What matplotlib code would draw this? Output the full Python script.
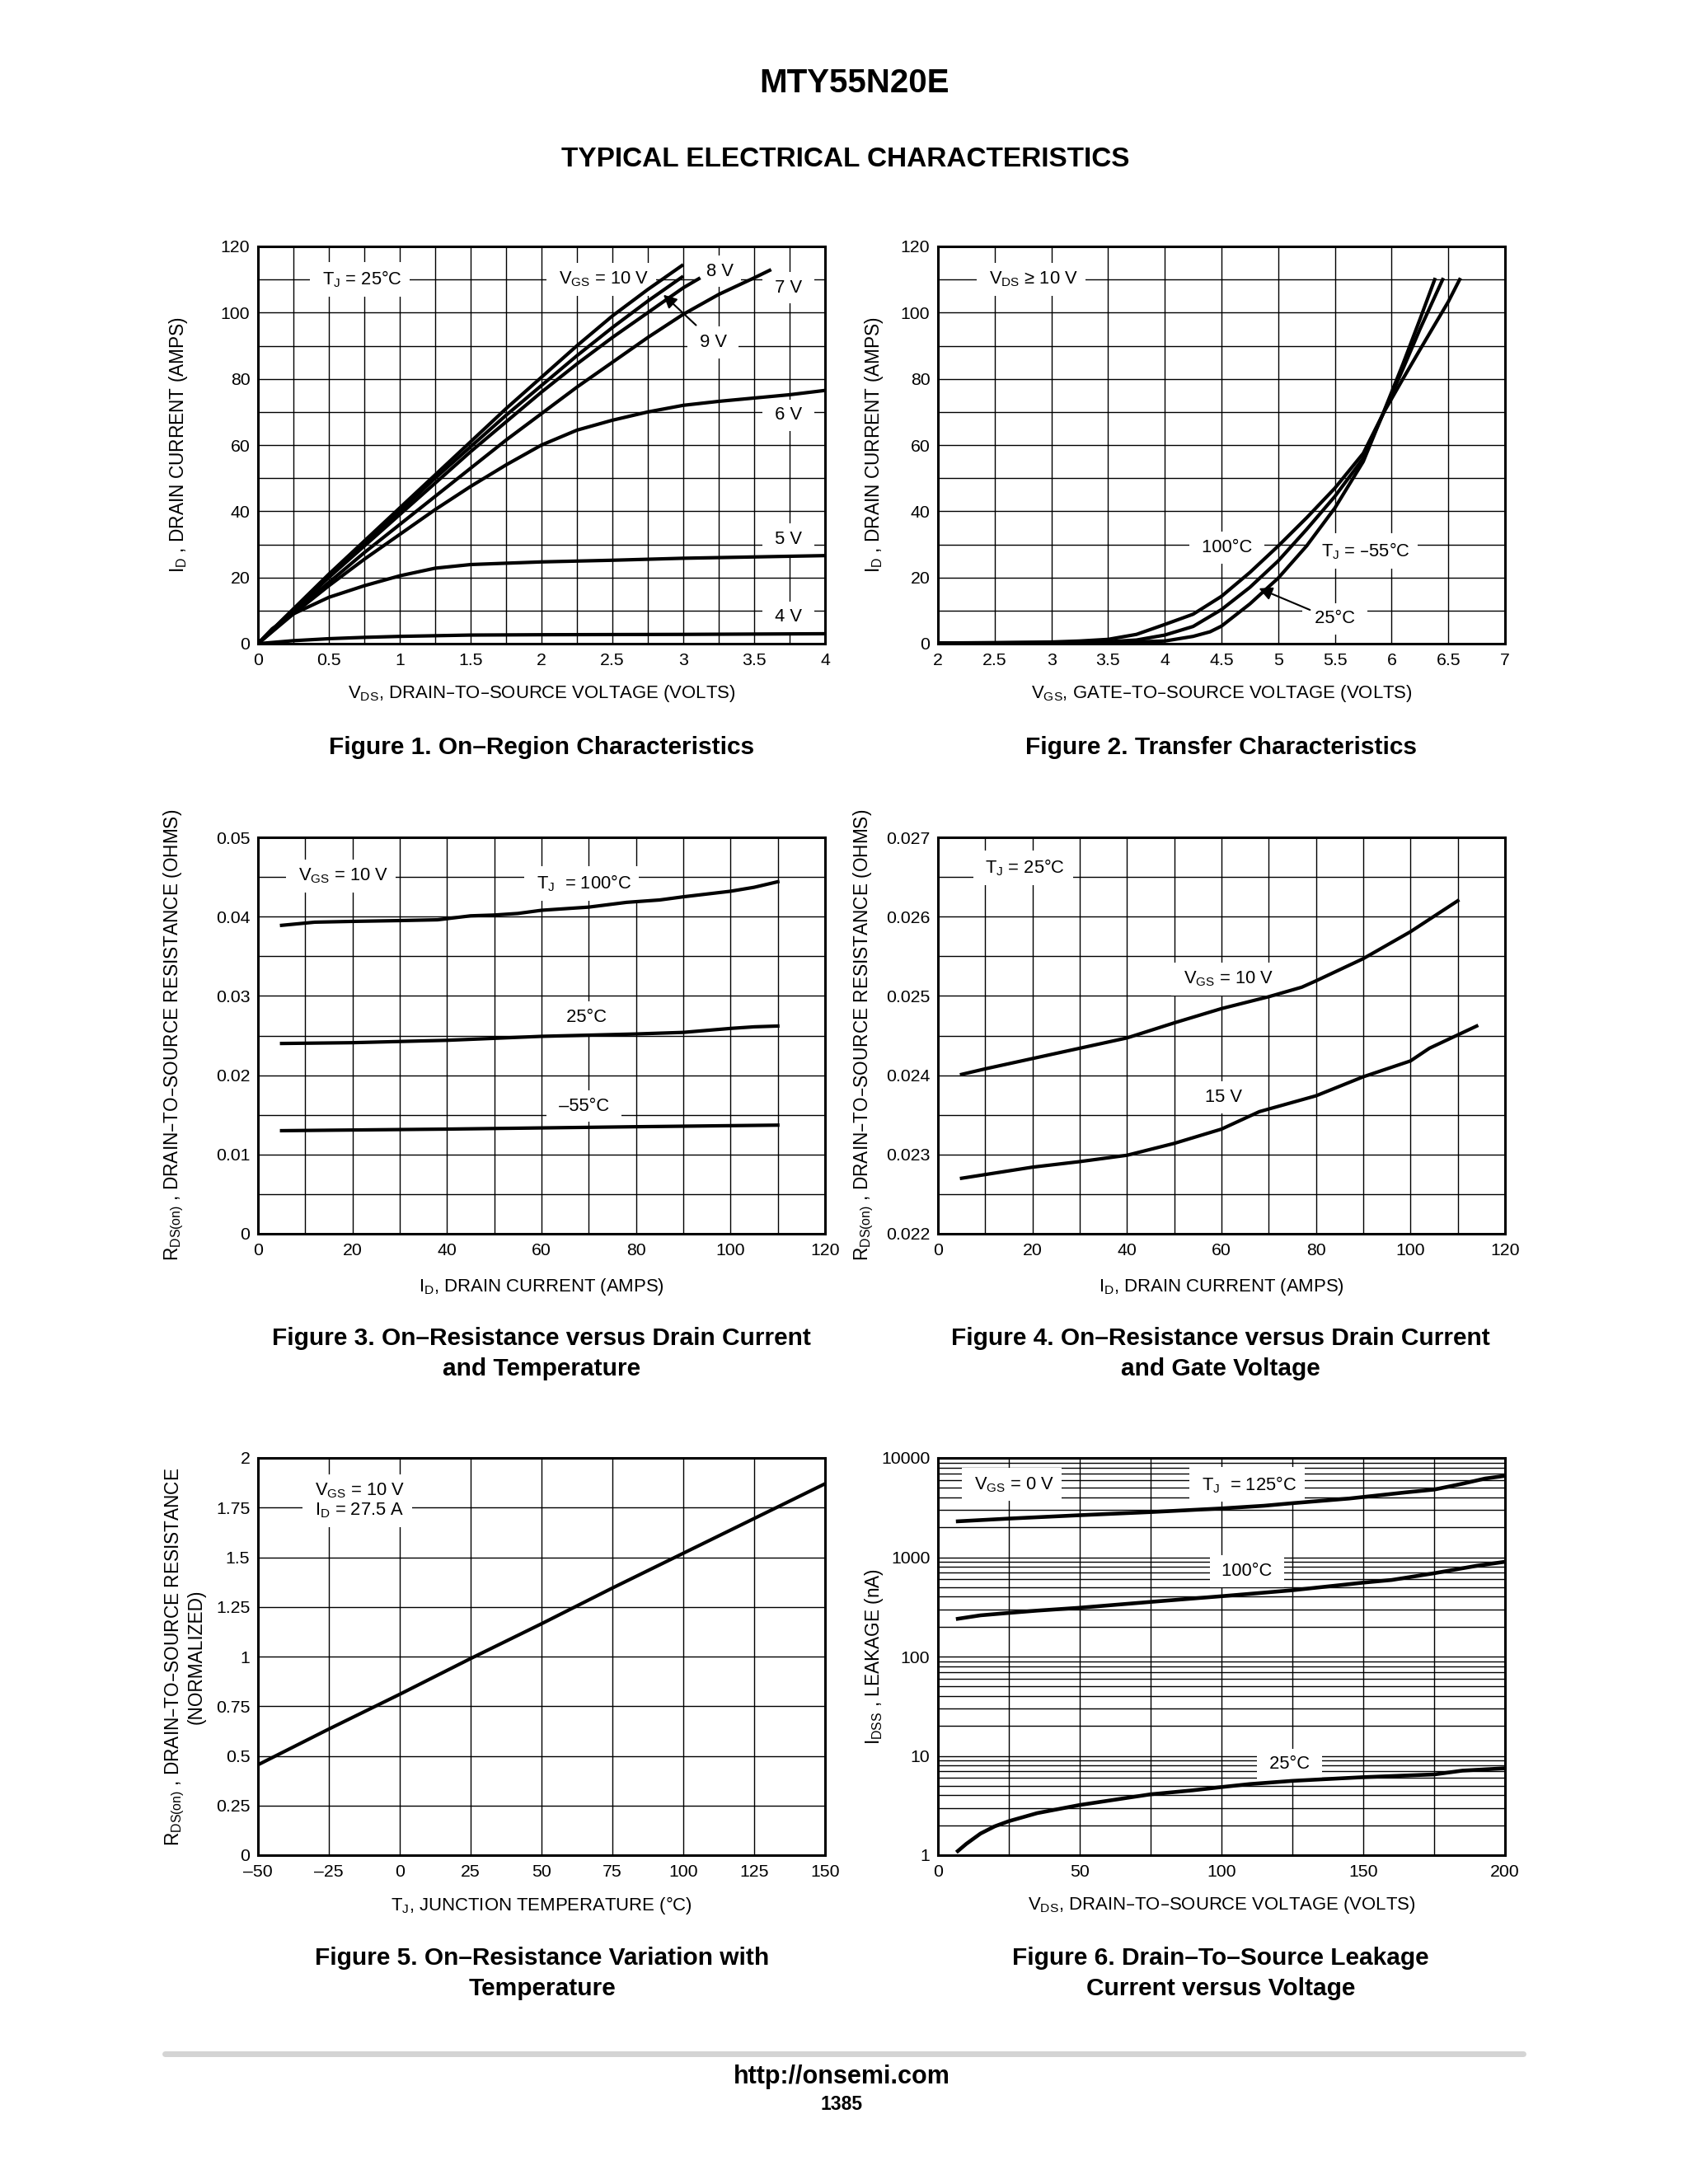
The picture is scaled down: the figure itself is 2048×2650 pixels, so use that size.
import numpy as np
import matplotlib
matplotlib.use('Agg')
import matplotlib.pyplot as plt
from matplotlib import font_manager as fm
from matplotlib.font_manager import FontProperties
from matplotlib.lines import Line2D
from matplotlib.ticker import NullFormatter

# ---------------- DATA ----------------
# Figure 1: On-region characteristics (VDS in V, ID in A), TJ = 25 C
vds_10v = [0, 0.25, 0.5, 0.75, 1.0, 1.25, 1.5, 1.75, 2.0, 2.25, 2.5, 2.75, 3.0]
id_10v = [0, 10.5, 21, 31, 41, 51, 61, 71, 80.5, 90, 99, 107, 114.5]
vds_9v = [0, 0.25, 0.5, 0.75, 1.0, 1.25, 1.5, 1.75, 2.0, 2.25, 2.5, 2.75, 3.0]
id_9v = [0, 10.3, 20.5, 30.5, 40, 50, 59.5, 69, 78, 87, 95.5, 103.5, 111]
vds_8v = [0, 0.25, 0.5, 0.75, 1.0, 1.25, 1.5, 1.75, 2.0, 2.25, 2.5, 2.75, 3.0, 3.12]
id_8v = [0, 10, 20, 29.5, 39, 48.5, 58, 67, 76, 84.5, 92.5, 100, 107.5, 110.5]
vds_7v = [0, 0.25, 0.5, 0.75, 1.0, 1.25, 1.5, 1.75, 2.0, 2.25, 2.5, 2.75, 3.0, 3.25, 3.5, 3.62]
id_7v = [0, 9.5, 18.5, 27.5, 36, 44.5, 53, 61.5, 69.5, 77.5, 85, 92.5, 99.5, 105.5, 110.5, 113]
vds_6v = [0, 0.25, 0.5, 0.75, 1.0, 1.25, 1.5, 1.75, 2.0, 2.25, 2.5, 2.75, 3.0, 3.25, 3.5, 3.75, 4.0]
id_6v = [0, 9, 17.5, 25.5, 33, 40.5, 47.5, 54, 60, 64.5, 67.5, 70, 72, 73.2, 74.2, 75.2, 76.5]
vds_5v = [0, 0.1, 0.25, 0.5, 0.75, 1.0, 1.25, 1.5, 1.75, 2.0, 2.5, 3.0, 3.5, 4.0]
id_5v = [0, 4.5, 9, 14, 17.5, 20.5, 22.8, 23.9, 24.3, 24.7, 25.2, 25.8, 26.2, 26.6]
vds_4v = [0, 0.25, 0.5, 0.75, 1.0, 1.5, 2.0, 2.5, 3.0, 3.5, 4.0]
id_4v = [0, 0.9, 1.5, 1.9, 2.2, 2.6, 2.7, 2.75, 2.8, 2.9, 3.0]
fig1_xticklabels = ['0', '0.5', '1', '1.5', '2', '2.5', '3', '3.5', '4']
fig1_yticklabels = ['0', '20', '40', '60', '80', '100', '120']

# Figure 2: Transfer characteristics (VGS in V, ID in A)
vgs_100c = [2, 2.5, 3, 3.25, 3.5, 3.75, 4, 4.25, 4.5, 4.75, 5, 5.25, 5.5, 5.75, 5.93, 6.1, 6.25, 6.4, 6.5, 6.6]
id_100c = [0.2, 0.3, 0.5, 0.8, 1.3, 2.8, 5.8, 8.9, 14.3, 21.5, 29.5, 38, 47, 57.5, 69.8, 80, 88.8, 97.5, 103.3, 110]
vgs_25c = [2, 3, 3.5, 3.75, 4, 4.25, 4.5, 4.75, 5, 5.25, 5.5, 5.75, 5.93, 6.1, 6.25, 6.35, 6.45]
id_25c = [0.2, 0.3, 0.6, 1.1, 2.6, 5.2, 10.3, 17, 25, 34.5, 44.5, 56, 69.8, 83, 95, 102.5, 110]
vgs_m55c = [2, 3, 3.5, 4, 4.25, 4.4, 4.5, 4.75, 5, 5.25, 5.5, 5.75, 5.93, 6.1, 6.25, 6.38]
id_m55c = [0.2, 0.2, 0.3, 0.8, 2.2, 3.6, 5.3, 12, 19.8, 29.5, 41, 55, 70, 84.5, 98, 110]
fig2_xticklabels = ['2', '2.5', '3', '3.5', '4', '4.5', '5', '5.5', '6', '6.5', '7']
fig2_yticklabels = ['0', '20', '40', '60', '80', '100', '120']

# Figure 3: RDS(on) vs ID and temperature (A, ohms), VGS = 10 V
id3_100c = [5, 12, 20, 30, 38, 45, 50, 55, 60, 70, 78, 85, 90, 100, 105, 110]
r3_100c = [0.0389, 0.0393, 0.0394, 0.0395, 0.0396, 0.0401, 0.0402, 0.0404, 0.0408, 0.0412,
           0.0418, 0.0421, 0.0425, 0.0432, 0.0437, 0.0444]
id3_25c = [5, 20, 40, 60, 80, 90, 100, 105, 110]
r3_25c = [0.0240, 0.0241, 0.0244, 0.0249, 0.0252, 0.0254, 0.0259, 0.0261, 0.0262]
id3_m55c = [5, 40, 80, 110]
r3_m55c = [0.0130, 0.0132, 0.0135, 0.0137]
fig3_xticklabels = ['0', '20', '40', '60', '80', '100', '120']
fig3_yticklabels = ['0', '0.01', '0.02', '0.03', '0.04', '0.05']

# Figure 4: RDS(on) vs ID and gate voltage (A, ohms), TJ = 25 C
id4_10v = [5, 10, 20, 30, 40, 50, 60, 70, 77, 80, 90, 100, 110]
r4_10v = [0.02401, 0.02408, 0.02421, 0.02434, 0.02447, 0.02466, 0.02484, 0.02499, 0.02511,
          0.02519, 0.02547, 0.02581, 0.0262]
id4_15v = [5, 20, 30, 40, 50, 60, 68, 80, 90, 100, 104, 114]
r4_15v = [0.0227, 0.02284, 0.02291, 0.02299, 0.02314, 0.02332, 0.02354, 0.02374, 0.02398,
          0.02418, 0.02434, 0.02462]
fig4_xticklabels = ['0', '20', '40', '60', '80', '100', '120']
fig4_yticklabels = ['0.022', '0.023', '0.024', '0.025', '0.026', '0.027']

# Figure 5: normalized RDS(on) vs TJ
tj5 = [-50, -25, 0, 25, 50, 75, 100, 125, 150]
rn5 = [0.455, 0.635, 0.81, 0.99, 1.165, 1.345, 1.52, 1.695, 1.87]
fig5_xticklabels = ['\u201350', '\u201325', '0', '25', '50', '75', '100', '125', '150']
fig5_yticklabels = ['0', '0.25', '0.5', '0.75', '1', '1.25', '1.5', '1.75', '2']

# Figure 6: IDSS leakage vs VDS (V, nA)
vds6_125c = [7, 25, 50, 75, 100, 115, 125, 145, 165, 175, 185, 193, 200]
idss_125c = [2300, 2450, 2650, 2850, 3100, 3300, 3500, 3900, 4500, 4800, 5500, 6200, 6600]
vds6_100c = [7, 15, 25, 35, 50, 75, 100, 125, 150, 160, 175, 190, 200]
idss_100c = [240, 260, 275, 290, 310, 355, 405, 465, 555, 590, 690, 820, 900]
vds6_25c = [7, 10, 15, 20, 25, 35, 50, 75, 90, 100, 110, 125, 150, 175, 185, 200]
idss_25c = [1.1, 1.3, 1.65, 1.95, 2.2, 2.65, 3.2, 4.1, 4.5, 4.85, 5.2, 5.6, 6.1, 6.5, 7.1, 7.5]
fig6_xticklabels = ['0', '50', '100', '150', '200']
fig6_yticklabels = ['1', '10', '100', '1000', '10000']

# ---------------- FONTS ----------------
names = {f.name for f in fm.fontManager.ttflist}
NARROW = 'Liberation Sans Narrow' in names
REG = 'Liberation Sans' if 'Liberation Sans' in names else 'DejaVu Sans'
COND = 'Liberation Sans Narrow' if NARROW else REG
CF = 1.04 if NARROW else 0.90
CFX = 1.04 if NARROW else 0.86


def cfp(size, f=None):
    return FontProperties(family=[COND, 'DejaVu Sans'], size=size * (CF if f is None else f))


def rfp(size, weight='normal'):
    return FontProperties(family=[REG, 'DejaVu Sans'], size=size, weight=weight)


# ---------------- FIGURE ----------------
W, H = 2048, 2650
fig = plt.figure(figsize=(W / 100, H / 100), dpi=100)
fig.patch.set_facecolor('white')


def ax_at(l, t, r, b):
    return fig.add_axes([l / W, 1 - b / H, (r - l) / W, (b - t) / H])


def fx(x):
    return x / W


def fy(y):
    return 1 - y / H


LW = 3.0
CURVE_Z = 5


def setup(ax, xlim, ylim, xt, xtl, yt, ytl, xminor, yminor, logy=False):
    if logy:
        ax.set_yscale('log')
    ax.set_xlim(*xlim)
    ax.set_ylim(*ylim)
    ax.set_xticks(xt)
    ax.set_xticklabels(xtl)
    ax.set_yticks(yt)
    ax.set_yticklabels(ytl)
    ax.set_xticks(xminor, minor=True)
    ax.set_yticks(yminor, minor=True)
    ax.xaxis.set_minor_formatter(NullFormatter())
    ax.yaxis.set_minor_formatter(NullFormatter())
    ax.tick_params(which='both', length=0)
    ax.tick_params(axis='x', pad=8)
    ax.tick_params(axis='y', pad=7)
    for lb in ax.get_xticklabels() + ax.get_yticklabels():
        lb.set_fontproperties(cfp(17))
    ax.grid(which='both', color='black', lw=1.0)
    ax.set_axisbelow(True)
    for s in ax.spines.values():
        s.set_linewidth(2.2)
        s.set_zorder(6)


def lab(ax, x, y, s, size=17.5, **kw):
    ax.text(x, y, s, ha='center', va='center', fontproperties=cfp(size),
            bbox=dict(fc='white', ec='none', boxstyle='square,pad=0.4'), zorder=4, **kw)


def arrow(ax, tip, tail):
    ax.annotate('', xy=tip, xytext=tail,
                arrowprops=dict(arrowstyle='-|>', color='black', lw=1.5,
                                mutation_scale=24, shrinkA=0, shrinkB=0), zorder=6)


LX = (313, 1001)
RX = (1138, 1826)
ROWS = [(299, 781), (1016, 1497), (1769, 2251)]

# ---- Figure 1 ----
ax1 = ax_at(LX[0], ROWS[0][0], LX[1], ROWS[0][1])
setup(ax1, (0, 4), (0, 120), np.arange(0, 4.01, 0.5), fig1_xticklabels,
      np.arange(0, 121, 20), fig1_yticklabels, np.arange(0, 4.01, 0.25), np.arange(0, 121, 10))
for xs, ys in [(vds_10v, id_10v), (vds_9v, id_9v), (vds_8v, id_8v), (vds_7v, id_7v),
               (vds_6v, id_6v), (vds_5v, id_5v), (vds_4v, id_4v)]:
    ax1.plot(xs, ys, color='black', lw=LW, zorder=CURVE_Z, solid_capstyle='butt')
lab(ax1, 0.72, 110, r' $\mathregular{T_J}$ = 25°C ')
lab(ax1, 2.42, 110, r' $\mathregular{V_{GS}}$ = 10 V')
lab(ax1, 3.26, 112.5, '8 V')
lab(ax1, 3.74, 107.5, ' 7 V ')
lab(ax1, 3.21, 91, ' 9 V ')
lab(ax1, 3.74, 69, ' 6 V ')
lab(ax1, 3.74, 31.5, ' 5 V ')
lab(ax1, 3.74, 8, ' 4 V ')
arrow(ax1, (2.86, 105.4), (3.09, 96.2))

# ---- Figure 2 ----
ax2 = ax_at(RX[0], ROWS[0][0], RX[1], ROWS[0][1])
setup(ax2, (2, 7), (0, 120), np.arange(2, 7.01, 0.5), fig2_xticklabels,
      np.arange(0, 121, 20), fig2_yticklabels, np.arange(2, 7.01, 0.5), np.arange(0, 121, 10))
for xs, ys in [(vgs_100c, id_100c), (vgs_25c, id_25c), (vgs_m55c, id_m55c)]:
    ax2.plot(xs, ys, color='black', lw=LW, zorder=CURVE_Z)
lab(ax2, 2.82, 110, r' $\mathregular{V_{DS}}$ ≥ 10 V ')
lab(ax2, 4.55, 29, ' 100°C ')
lab(ax2, 5.75, 28, r' $\mathregular{T_J}$ = –55°C ')
lab(ax2, 5.5, 7.5, ' 25°C ')
arrow(ax2, (4.83, 16.7), (5.28, 10.2))

# ---- Figure 3 ----
ax3 = ax_at(LX[0], ROWS[1][0], LX[1], ROWS[1][1])
setup(ax3, (0, 120), (0, 0.05), np.arange(0, 121, 20), fig3_xticklabels,
      np.arange(0, 0.0501, 0.01), fig3_yticklabels, np.arange(0, 121, 10), np.arange(0, 0.0501, 0.005))
for xs, ys in [(id3_100c, r3_100c), (id3_25c, r3_25c), (id3_m55c, r3_m55c)]:
    ax3.plot(xs, ys, color='black', lw=LW, zorder=CURVE_Z)
lab(ax3, 17.5, 0.0451, r' $\mathregular{V_{GS}}$ = 10 V ')
lab(ax3, 68.5, 0.0442, r' $\mathregular{T_J}$  = 100°C ')
lab(ax3, 69.5, 0.0273, ' 25°C ')
lab(ax3, 69, 0.0161, ' –55°C ')

# ---- Figure 4 ----
ax4 = ax_at(RX[0], ROWS[1][0], RX[1], ROWS[1][1])
setup(ax4, (0, 120), (0.022, 0.027), np.arange(0, 121, 20), fig4_xticklabels,
      np.linspace(0.022, 0.027, 6), fig4_yticklabels, np.arange(0, 121, 10), np.linspace(0.022, 0.027, 11))
for xs, ys in [(id4_10v, r4_10v), (id4_15v, r4_15v)]:
    ax4.plot(xs, ys, color='black', lw=LW, zorder=CURVE_Z)
lab(ax4, 18, 0.02662, r' $\mathregular{T_J}$ = 25°C ')
lab(ax4, 61, 0.02521, r' $\mathregular{V_{GS}}$ = 10 V ')
lab(ax4, 60.5, 0.02372, '15 V')

# ---- Figure 5 ----
ax5 = ax_at(LX[0], ROWS[2][0], LX[1], ROWS[2][1])
setup(ax5, (-50, 150), (0, 2), np.arange(-50, 151, 25), fig5_xticklabels,
      np.arange(0, 2.01, 0.25), fig5_yticklabels, np.arange(-50, 151, 25), np.arange(0, 2.01, 0.25))
ax5.plot(tj5, rn5, color='black', lw=LW, zorder=CURVE_Z)
ax5.text(-15, 1.785, ' $\\mathregular{V_{GS}}$ = 10 V \n $\\mathregular{I_D}$ = 27.5 A ', ha='center', va='center',
         multialignment='left', fontproperties=cfp(17.5), linespacing=1.05,
         bbox=dict(fc='white', ec='none', boxstyle='square,pad=0.4'), zorder=4)

# ---- Figure 6 ----
ax6 = ax_at(RX[0], ROWS[2][0], RX[1], ROWS[2][1])
yminor6 = [m * 10.0 ** e for e in range(0, 4) for m in range(1, 10)] + [10000]
setup(ax6, (0, 200), (1, 10000), np.arange(0, 201, 50), fig6_xticklabels,
      [1, 10, 100, 1000, 10000], fig6_yticklabels, np.arange(0, 201, 25), yminor6, logy=True)
for xs, ys in [(vds6_125c, idss_125c), (vds6_100c, idss_100c), (vds6_25c, idss_25c)]:
    ax6.plot(xs, ys, color='black', lw=LW + 0.3, zorder=CURVE_Z)
lab(ax6, 26, 5400, r' $\mathregular{V_{GS}}$ = 0 V ')
lab(ax6, 109, 5400, r' $\mathregular{T_J}$  = 125°C ')
lab(ax6, 109, 720, ' 100°C ')
lab(ax6, 124, 8.2, ' 25°C ')

# ---------------- AXIS LABELS ----------------
xl_fp = cfp(18.5, CFX)
yl_fp = rfp(16.3)
vds_label = r'$\mathregular{V_{DS}}$, DRAIN–TO–SOURCE VOLTAGE (VOLTS)'
fig.text(fx(657), fy(842), vds_label, ha='center', va='center', fontproperties=xl_fp)
fig.text(fx(1482), fy(842), r'$\mathregular{V_{GS}}$, GATE–TO–SOURCE VOLTAGE (VOLTS)',
         ha='center', va='center', fontproperties=xl_fp)
fig.text(fx(657), fy(1562), r'$\mathregular{I_D}$, DRAIN CURRENT (AMPS)', ha='center', va='center', fontproperties=xl_fp)
fig.text(fx(1482), fy(1562), r'$\mathregular{I_D}$, DRAIN CURRENT (AMPS)', ha='center', va='center', fontproperties=xl_fp)
fig.text(fx(657), fy(2312), r'$\mathregular{T_J}$, JUNCTION TEMPERATURE (°C)', ha='center', va='center', fontproperties=xl_fp)
fig.text(fx(1482), fy(2312), vds_label, ha='center', va='center', fontproperties=xl_fp)

fig.text(fx(216), fy(540), r'$\mathregular{I_D}$ , DRAIN CURRENT (AMPS)', rotation=90,
         ha='center', va='center', fontproperties=yl_fp)
fig.text(fx(1061), fy(540), r'$\mathregular{I_D}$ , DRAIN CURRENT (AMPS)', rotation=90,
         ha='center', va='center', fontproperties=yl_fp)
fig.text(fx(211), fy(1256), r'$\mathregular{R_{DS(on)}}$ , DRAIN–TO–SOURCE RESISTANCE (OHMS)', rotation=90,
         ha='center', va='center', fontproperties=yl_fp)
fig.text(fx(1048), fy(1256), r'$\mathregular{R_{DS(on)}}$ , DRAIN–TO–SOURCE RESISTANCE (OHMS)', rotation=90,
         ha='center', va='center', fontproperties=yl_fp)
fig.text(fx(224), fy(2010), '$\\mathregular{R_{DS(on)}}$ , DRAIN–TO–SOURCE RESISTANCE\n(NORMALIZED)', rotation=90,
         ha='center', va='center', multialignment='center', linespacing=1.0, fontproperties=yl_fp)
fig.text(fx(1060), fy(2010), r'$\mathregular{I_{DSS}}$ , LEAKAGE (nA)', rotation=90,
         ha='center', va='center', fontproperties=yl_fp)

# ---------------- CAPTIONS / TITLES ----------------
cap_fp = rfp(21.5, 'bold')
captions = [
    (657, 907, 'Figure 1. On–Region Characteristics'),
    (1481, 907, 'Figure 2. Transfer Characteristics'),
    (657, 1624, 'Figure 3. On–Resistance versus Drain Current'),
    (657, 1661, 'and Temperature'),
    (1481, 1624, 'Figure 4. On–Resistance versus Drain Current'),
    (1481, 1661, 'and Gate Voltage'),
    (658, 2376, 'Figure 5. On–Resistance Variation with'),
    (658, 2413, 'Temperature'),
    (1481, 2376, 'Figure 6. Drain–To–Source Leakage'),
    (1481, 2413, 'Current versus Voltage'),
]
for x, y, s in captions:
    fig.text(fx(x), fy(y), s, ha='center', va='center', fontproperties=cap_fp)

fig.text(fx(1036), fy(101), 'MTY55N20E', ha='center', va='center', fontproperties=rfp(29, 'bold'))
fig.text(fx(1026), fy(194), 'TYPICAL ELECTRICAL CHARACTERISTICS', ha='center', va='center',
         fontproperties=rfp(24, 'bold'))

fig.add_artist(Line2D([fx(200), fx(1848)], [fy(2492), fy(2492)], color='#d4d4d4', lw=5,
                      solid_capstyle='round'))
fig.text(fx(1021), fy(2520), 'http://onsemi.com', ha='center', va='center', fontproperties=rfp(22, 'bold'))
fig.text(fx(1021), fy(2554), '1385', ha='center', va='center', fontproperties=rfp(16.5, 'bold'))

fig.savefig('out.png', dpi=100, facecolor='white')
